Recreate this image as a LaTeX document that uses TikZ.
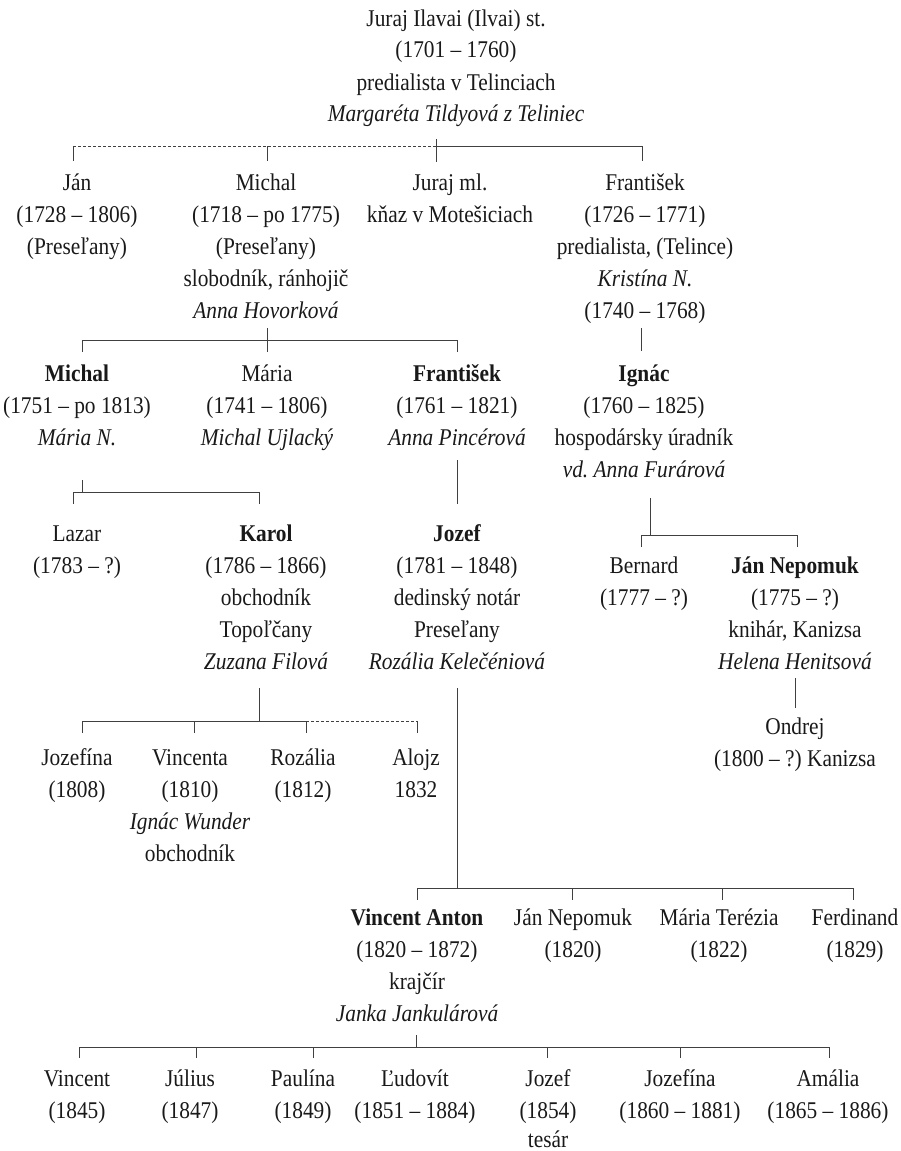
\documentclass[tikz,border=0pt]{standalone}
\usepackage{fontspec}
\setmainfont[FakeStretch=0.89]{Liberation Serif}
\frenchspacing
\newcommand\ptab[1]{\begin{tabular}[t]{@{}c@{}}#1\end{tabular}}
\tikzset{
  pers/.style={anchor=base, inner sep=0pt, text=black!90, font=\fontsize{24}{32}\selectfont\frenchspacing},
  link/.style={draw=black!75, line width=0.9pt},
  dotlink/.style={draw=black!75, line width=0.9pt, dash pattern=on 3pt off 2pt}
}
\begin{document}
\begin{tikzpicture}[x=1pt,y=-1pt]
\useasboundingbox (0,0) rectangle (901,1151);
% generation 0
\node[pers] (juraj) at (456,26) {\ptab{Juraj Ilavai (Ilvai) st.\\(1701 – 1760)\\predialista v Telinciach\\\textit{Margaréta Tildyová z Teliniec}}};
% generation 1
\node[pers] (jan) at (77,190) {\ptab{Ján\\(1728 – 1806)\\(Preseľany)}};
\node[pers] (michal1) at (266,190) {\ptab{Michal\\(1718 – po 1775)\\(Preseľany)\\slobodník, ránhojič\\\textit{Anna Hovorková}}};
\node[pers] (jurajml) at (450,190) {\ptab{Juraj ml.\\kňaz v Motešiciach}};
\node[pers] (frantisek1) at (645,190) {\ptab{František\\(1726 – 1771)\\predialista, (Telince)\\\textit{Kristína N.}\\(1740 – 1768)}};
% generation 2
\node[pers] (michal2) at (77,381) {\ptab{\textbf{Michal}\\(1751 – po 1813)\\\textit{Mária N.}}};
\node[pers] (maria2) at (267,381) {\ptab{Mária\\(1741 – 1806)\\\textit{Michal Ujlacký}}};
\node[pers] (frantisek2) at (457,381) {\ptab{\textbf{František}\\(1761 – 1821)\\\textit{Anna Pincérová}}};
\node[pers] (ignac) at (644,381) {\ptab{\textbf{Ignác}\\(1760 – 1825)\\hospodársky úradník\\\textit{vd. Anna Furárová}}};
% generation 3
\node[pers] (lazar) at (77,541) {\ptab{Lazar\\(1783 – ?)}};
\node[pers] (karol) at (266,541) {\ptab{\textbf{Karol}\\(1786 – 1866)\\obchodník\\Topoľčany\\\textit{Zuzana Filová}}};
\node[pers] (jozef) at (457,541) {\ptab{\textbf{Jozef}\\(1781 – 1848)\\dedinský notár\\Preseľany\\\textit{Rozália Kelečéniová}}};
\node[pers] (bernard) at (644,573) {\ptab{Bernard\\(1777 – ?)}};
\node[pers] (jannep) at (795,573) {\ptab{\textbf{Ján Nepomuk}\\(1775 – ?)\\knihár, Kanizsa\\\textit{Helena Henitsová}}};
\node[pers] (ondrej) at (795,734) {\ptab{Ondrej\\(1800 – ?) Kanizsa}};
% generation 4
\node[pers] (jozefina) at (77,765) {\ptab{Jozefína\\(1808)}};
\node[pers] (vincenta) at (190,765) {\ptab{Vincenta\\(1810)\\\textit{Ignác Wunder}\\obchodník}};
\node[pers] (rozalia) at (303,765) {\ptab{Rozália\\(1812)}};
\node[pers] (alojz) at (416,765) {\ptab{Alojz\\1832}};
\node[pers] (vanton) at (417,925) {\ptab{\textbf{Vincent Anton}\\(1820 – 1872)\\krajčír\\\textit{Janka Jankulárová}}};
\node[pers] (jannep2) at (573,925) {\ptab{Ján Nepomuk\\(1820)}};
\node[pers] (mterezia) at (719,925) {\ptab{Mária Terézia\\(1822)}};
\node[pers] (ferdinand) at (855,925) {\ptab{Ferdinand\\(1829)}};
% generation 5
\node[pers] (vincent) at (77,1086) {\ptab{Vincent\\(1845)}};
\node[pers] (julius) at (190,1086) {\ptab{Július\\(1847)}};
\node[pers] (paulina) at (303,1086) {\ptab{Paulína\\(1849)}};
\node[pers] (ludovit) at (415,1086) {\ptab{Ľudovít\\(1851 – 1884)}};
\node[pers] (jozef5) at (548,1086) {\ptab{Jozef\\(1854)\\[-3pt]tesár}};
\node[pers] (jozefina5) at (680,1086) {\ptab{Jozefína\\(1860 – 1881)}};
\node[pers] (amalia) at (828,1086) {\ptab{Amália\\(1865 – 1886)}};

% ---- connectors ----
% Juraj st. -> children
\coordinate (j0a) at (436,139);
\coordinate (j0b) at (436,162);
\coordinate (j0l) at (73,146);
\coordinate (j0m) at (436,146);
\coordinate (j0r) at (642,146);
\coordinate (j0mi) at (267,146);
\draw[link] (j0a) -- (j0b);
\draw[dotlink] (j0l) -- (j0m);
\draw[link] (j0m) -- (j0r);
\draw[link] (j0l) -- ++(0,15);
\draw[link] (j0mi) -- ++(0,15);
\draw[link] (j0r) -- ++(0,15);
% Michal st. -> children
\coordinate (m1t) at (267,328);
\coordinate (m1b) at (267,340);
\coordinate (m1l) at (82,340);
\coordinate (m1r) at (457,340);
\draw[link] (m1t) -- (m1b);
\draw[link] (m1l) -- (m1r);
\draw[link] (m1l) -- ++(0,12);
\draw[link] (m1b) -- ++(0,12);
\draw[link] (m1r) -- ++(0,12);
% Frantisek -> Ignac
\coordinate (f1t) at (641,328);
\coordinate (f1b) at (641,351);
\draw[link] (f1t) -- (f1b);
% Michal -> children
\coordinate (m2t) at (82,480);
\coordinate (m2b) at (82,492);
\coordinate (m2l) at (73,492);
\coordinate (m2r) at (259,492);
\draw[link] (m2t) -- (m2b);
\draw[link] (m2l) -- (m2r);
\draw[link] (m2l) -- ++(0,12);
\draw[link] (m2r) -- ++(0,12);
% Frantisek -> Jozef
\coordinate (f2t) at (457,460);
\coordinate (f2b) at (457,504);
\draw[link] (f2t) -- (f2b);
% Ignac -> children
\coordinate (it) at (650,498);
\coordinate (ib) at (650,535);
\coordinate (il) at (641,535);
\coordinate (ir) at (797,535);
\draw[link] (it) -- (ib);
\draw[link] (il) -- (ir);
\draw[link] (il) -- ++(0,12);
\draw[link] (ir) -- ++(0,12);
% Jan Nepomuk -> Ondrej
\coordinate (jnt) at (795,678);
\coordinate (jnb) at (795,708);
\draw[link] (jnt) -- (jnb);
% Karol -> children
\coordinate (kt) at (259,688);
\coordinate (kb) at (259,721);
\coordinate (kl) at (82,721);
\coordinate (kv) at (194,721);
\coordinate (km) at (306,721);
\coordinate (kr) at (417,721);
\draw[link] (kt) -- (kb);
\draw[link] (kl) -- (km);
\draw[dotlink] (km) -- (kr);
\draw[link] (kl) -- ++(0,12);
\draw[link] (kv) -- ++(0,12);
\draw[link] (km) -- ++(0,12);
\draw[link] (kr) -- ++(0,12);
% Jozef -> children
\coordinate (jt) at (457,688);
\coordinate (jb) at (457,888);
\coordinate (jl) at (417,888);
\coordinate (jj) at (572,888);
\coordinate (jm) at (722,888);
\coordinate (jr) at (853,888);
\draw[link] (jt) -- (jb);
\draw[link] (jl) -- (jr);
\draw[link] (jl) -- ++(0,12);
\draw[link] (jj) -- ++(0,12);
\draw[link] (jm) -- ++(0,12);
\draw[link] (jr) -- ++(0,12);
% Vincent Anton -> children
\coordinate (vt) at (416,1035);
\coordinate (vb) at (416,1047);
\coordinate (vl) at (79,1047);
\coordinate (vr) at (829,1047);
\draw[link] (vt) -- (vb);
\draw[link] (vl) -- (vr);
\foreach \xx in {79,196,313,547,680,829}{\draw[link] (\xx,1047) -- ++(0,11);}
\end{tikzpicture}
\end{document}
